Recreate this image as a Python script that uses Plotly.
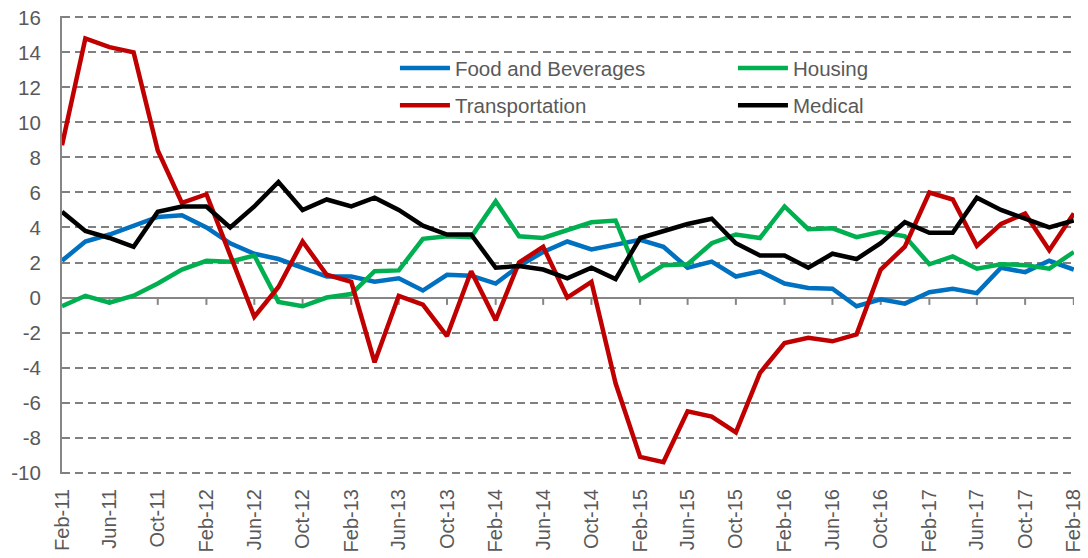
import pandas as pd
import plotly.graph_objects as go

# bi-monthly observations, Feb-11 .. Feb-18
months = pd.date_range("2011-02-01", "2018-02-01", freq="2MS")
tick_months = pd.date_range("2011-02-01", "2018-02-01", freq="4MS")
y_ticks = list(range(-10, 17, 2))

food = [2.1, 3.2, 3.6, 4.1, 4.6, 4.7, 4.0, 3.1, 2.5, 2.2, 1.7, 1.2, 1.2, 0.9, 1.1,
        0.4, 1.3, 1.25, 0.8, 1.8, 2.6, 3.2, 2.75, 3.0, 3.3, 2.9, 1.7, 2.05, 1.2, 1.5,
        0.8, 0.55, 0.5, -0.5, -0.1, -0.35, 0.3, 0.5, 0.25, 1.7, 1.45, 2.1, 1.6]
housing = [-0.5, 0.1, -0.3, 0.1, 0.8, 1.6, 2.1, 2.05, 2.4, -0.25, -0.5, 0.0, 0.2, 1.5,
           1.55, 3.35, 3.5, 3.45, 5.5, 3.5, 3.4, 3.85, 4.3, 4.4, 1.0, 1.85, 1.9, 3.1,
           3.6, 3.4, 5.2, 3.9, 3.95, 3.45, 3.75, 3.5, 1.9, 2.35, 1.65, 1.9, 1.85, 1.65, 2.6]
transport = [8.7, 14.8, 14.3, 14.0, 8.4, 5.4, 5.9, 2.5, -1.1, 0.6, 3.2, 1.3, 0.9, -3.7,
             0.1, -0.4, -2.2, 1.5, -1.3, 2.0, 2.9, 0.0, 0.9, -4.9, -9.1, -9.4, -6.5,
             -6.8, -7.7, -4.3, -2.6, -2.3, -2.5, -2.1, 1.6, 2.9, 6.0, 5.6, 2.95, 4.2,
             4.8, 2.7, 4.8]
medical = [4.9, 3.8, 3.4, 2.9, 4.9, 5.2, 5.2, 4.0, 5.2, 6.6, 5.0, 5.6, 5.2, 5.7, 5.0,
           4.1, 3.6, 3.6, 1.7, 1.8, 1.6, 1.1, 1.7, 1.05, 3.4, 3.8, 4.2, 4.5, 3.1, 2.4,
           2.4, 1.7, 2.5, 2.2, 3.1, 4.3, 3.7, 3.7, 5.7, 5.0, 4.5, 4.0, 4.4]

series = [
    ("Food and Beverages", food, "#0070C0"),
    ("Housing", housing, "#00B050"),
    ("Transportation", transport, "#C00000"),
    ("Medical", medical, "#000000"),
]

FONT = "Liberation Sans"
TXT = "#595959"
GRID = "#808080"
AXIS = "#868686"

# legend slots (paper coords): 2 columns x 2 rows
legend_pos = [(0.329, 0.886), (0.663, 0.886), (0.329, 0.805), (0.663, 0.805)]

fig = go.Figure()
legends = {}
for i, (name, vals, color) in enumerate(series):
    key = "legend" if i == 0 else f"legend{i + 1}"
    fig.add_trace(go.Scatter(x=months, y=vals, name=name, mode="lines",
                             line=dict(color=color, width=4.5), legend=key))
    lx, ly = legend_pos[i]
    legends[key] = dict(x=lx, y=ly, xanchor="left", yanchor="middle",
                        bgcolor="rgba(0,0,0,0)", itemwidth=50,
                        font=dict(family=FONT, size=20.5, color=TXT))

# small tick marks hanging off the zero line
for t in tick_months[1:]:
    fig.add_shape(type="line", xref="x", yref="y", x0=t, x1=t, y0=0, y1=-0.42,
                  line=dict(color=AXIS, width=2), layer="below")

pad = pd.Timedelta(hours=12)

fig.update_layout(
    width=1088, height=558,
    margin=dict(l=62, r=14, t=16, b=84, autoexpand=False),
    showlegend=True,
    plot_bgcolor="white", paper_bgcolor="white",
    font=dict(family=FONT, size=20, color=TXT),
    xaxis=dict(
        range=[months[0], months[-1] + pad], automargin=False,
        tickvals=tick_months, tickformat="%b-%y", tickangle=-90,
        showgrid=False, showline=False, zeroline=False, ticks="",
        ticklabeloverflow="allow", ticklabelstandoff=10,
        tickfont=dict(family=FONT, size=20, color=TXT),
    ),
    yaxis=dict(
        # small padding at both ends so the 16 and -10 gridlines are kept
        range=[-10.08, 16.08], automargin=False,
        tickvals=y_ticks, ticktext=[str(v) for v in y_ticks],
        showgrid=True, gridcolor=GRID, gridwidth=1.5, griddash="8px,5px",
        showline=True, linecolor=AXIS, linewidth=2,
        zeroline=True, zerolinecolor=AXIS, zerolinewidth=2,
        ticks="", ticklabelstandoff=15, ticklabeloverflow="allow",
        tickfont=dict(family=FONT, size=20.5, color=TXT),
    ),
    **legends,
)

# drop the default 8px body margin so the figure fills the window exactly
fig.write_html("out.html", config={"displayModeBar": False},
               post_script="document.body.style.margin='0';")
